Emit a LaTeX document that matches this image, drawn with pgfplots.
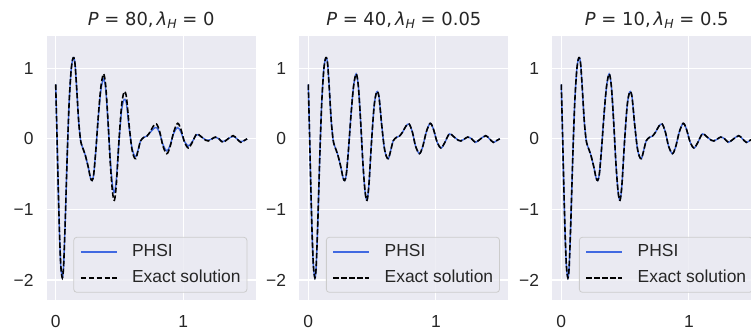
\documentclass[border=0pt]{standalone}
\usepackage{fontspec}
\setmainfont{Liberation Sans}
\newfontfamily\dv{DejaVu Sans}
\usepackage{pgfplots}
\pgfplotsset{compat=1.18}
\usepackage{pgfplotstable}
\definecolor{axbg}{HTML}{EAEAF2}
\definecolor{phsiblue}{RGB}{65,105,225}
\definecolor{txt}{HTML}{262626}

\pgfplotstableread{
x y
0.000 0.77
0.010 0.05
0.020 -0.70
0.030 -1.35
0.040 -1.80
0.052 -1.97
0.062 -1.80
0.075 -1.15
0.090 -0.25
0.105 0.50
0.120 0.95
0.132 1.12
0.142 1.15
0.152 1.05
0.165 0.70
0.180 0.25
0.195 -0.02
0.210 -0.12
0.230 -0.22
0.255 -0.40
0.272 -0.55
0.285 -0.59
0.298 -0.50
0.315 -0.15
0.335 0.35
0.355 0.75
0.375 0.92
0.392 0.75
0.410 0.25
0.428 -0.35
0.445 -0.75
0.460 -0.87
0.475 -0.65
0.495 -0.05
0.515 0.45
0.530 0.63
0.542 0.67
0.555 0.58
0.575 0.20
0.595 -0.12
0.612 -0.25
0.628 -0.28
0.645 -0.17
0.665 -0.03
0.690 0.02
0.715 0.04
0.740 0.10
0.765 0.18
0.790 0.21
0.815 0.10
0.840 -0.10
0.870 -0.21
0.895 -0.12
0.925 0.10
0.955 0.22
0.980 0.14
1.010 -0.05
1.040 -0.13
1.070 -0.05
1.105 0.07
1.140 0.03
1.175 -0.02
1.195 -0.03
1.225 0.00
1.250 0.025
1.280 0.00
1.310 -0.05
1.350 0.00
1.390 0.045
1.420 0.00
1.450 -0.05
1.480 -0.02
1.500 0.00
}\exact

\pgfplotstableread{
x y
0.000 0.77
0.010 0.05
0.020 -0.70
0.030 -1.35
0.040 -1.80
0.052 -1.97
0.062 -1.80
0.075 -1.15
0.090 -0.25
0.105 0.50
0.120 0.95
0.132 1.12
0.142 1.15
0.152 1.05
0.165 0.70
0.180 0.25
0.195 -0.02
0.210 -0.12
0.230 -0.22
0.255 -0.40
0.272 -0.55
0.285 -0.59
0.298 -0.50
0.315 -0.15
0.335 0.33
0.355 0.70
0.375 0.85
0.392 0.70
0.410 0.23
0.428 -0.30
0.445 -0.66
0.460 -0.76
0.475 -0.58
0.495 -0.06
0.515 0.38
0.530 0.53
0.542 0.56
0.555 0.49
0.575 0.16
0.595 -0.10
0.612 -0.22
0.628 -0.25
0.645 -0.16
0.665 -0.03
0.690 0.02
0.715 0.04
0.740 0.09
0.765 0.14
0.790 0.16
0.815 0.08
0.840 -0.08
0.870 -0.17
0.895 -0.10
0.925 0.08
0.955 0.16
0.980 0.10
1.010 -0.04
1.040 -0.10
1.070 -0.04
1.105 0.06
1.140 0.03
1.175 -0.015
1.195 -0.02
1.225 0.00
1.250 0.02
1.280 0.00
1.310 -0.04
1.350 0.00
1.390 0.035
1.420 0.00
1.450 -0.04
1.480 -0.02
1.500 0.00
}\phsione

\newcommand\ttl[2]{\textit{P} = #1,\kern3bp\textit{λ}\raisebox{-3.4bp}{\fontsize{12.5}{13}\selectfont\textit{H}} = #2}

\pgfplotsset{panel/.style={
  scale only axis, width=209bp, height=264bp, anchor=south west,
  xmin=-0.0705, xmax=1.567, ymin=-2.283, ymax=1.457,
  axis background/.style={fill=axbg},
  axis line style={draw=none},
  major tick length=0pt,
  grid=major, major grid style={white, line width=1.1bp},
  xtick={0,1}, xticklabels={0,1},
  ytick={-2,-1,0,1}, yticklabels={−2,−1,0,1},
  tick label style={font=\fontsize{17.5}{17.5}\selectfont, text=txt, inner sep=0pt},
  yticklabel style={anchor=east, xshift=-13bp},
  xticklabel style={anchor=north, yshift=-15.5bp},
  title style={at={(0.5,1)}, anchor=base, yshift=5bp, font=\dv\fontsize{18}{18}\selectfont, text=txt, inner sep=0pt},
  legend cell align=left,
  legend image code/.code={\draw[##1] (0bp,0bp) -- (36bp,0bp);},
  legend style={at={(1,0)}, anchor=south east, xshift=-8.4bp, yshift=7.3bp,
    draw=black!20, line width=0.8bp, fill=axbg, fill opacity=0.8, draw opacity=1, text opacity=1,
    rounded corners=3bp, inner xsep=6.3bp, inner ysep=6.5bp, row sep=10bp, column sep=14.4bp,
    font=\fontsize{17.5}{17.5}\selectfont, text=txt,
    nodes={inner sep=0pt, text height=12.5bp, text depth=3.5bp}},
}}

\begin{document}
\begin{tikzpicture}
\begin{axis}[panel, at={(46.7bp,33bp)}, title={\ttl{80}{0}}]
\addplot[phsiblue, line width=1.4bp, smooth, tension=0.5] table[x=x,y=y]{\phsione};
\addlegendentry{PHSI}
\addplot[black, line width=1.6bp, dash pattern=on 5.5bp off 2.4bp, smooth, tension=0.5] table[x=x,y=y]{\exact};
\addlegendentry{Exact solution}
\end{axis}
\begin{axis}[panel, at={(299.3bp,33bp)}, title={\ttl{40}{0.05}}]
\addplot[phsiblue, line width=1.4bp, smooth, tension=0.5] table[x=x,y=y]{\exact};
\addlegendentry{PHSI}
\addplot[black, line width=1.6bp, dash pattern=on 5.5bp off 2.4bp, smooth, tension=0.5] table[x=x,y=y]{\exact};
\addlegendentry{Exact solution}
\end{axis}
\begin{axis}[panel, at={(552.3bp,33bp)}, title={\ttl{10}{0.5}}]
\addplot[phsiblue, line width=1.4bp, smooth, tension=0.5] table[x=x,y=y]{\exact};
\addlegendentry{PHSI}
\addplot[black, line width=1.6bp, dash pattern=on 5.5bp off 2.4bp, smooth, tension=0.5] table[x=x,y=y]{\exact};
\addlegendentry{Exact solution}
\end{axis}
\pgfresetboundingbox
\path[use as bounding box] (0bp,0bp) rectangle (751bp,333bp);
\end{tikzpicture}
\end{document}
